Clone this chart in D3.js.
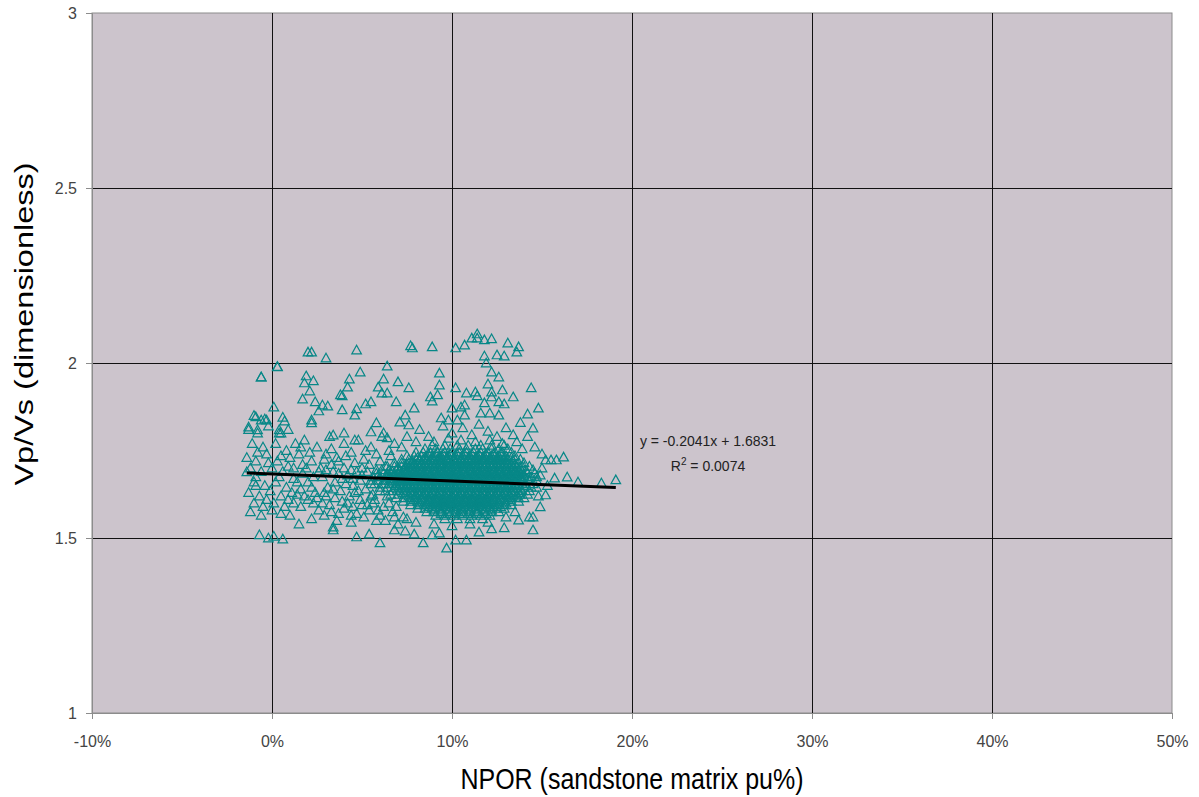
<!DOCTYPE html>
<html>
<head>
<meta charset="utf-8">
<script src="https://cdn.jsdelivr.net/npm/d3@7"></script>
<style>
  body { margin: 0; background: #fff; }
  text { font-family: Arial, "Liberation Sans", sans-serif; }
</style>
</head>
<body>
<div id="chart"></div>
<script>
// axis ticks
const xTicks = [-10, 0, 10, 20, 30, 40, 50];   // NPOR, percent
const yTicks = [1, 1.5, 2, 2.5, 3];            // Vp/Vs

// linear trendline from the spreadsheet (x as a fraction)
const trendSlope = -0.2041;
const trendIntercept = 1.6831;
const trendR2 = 0.0074;

// scattered points above the cloud  [NPOR %, Vp/Vs]
const upperPoints = [
  [2.0,2.031],[2.2,2.031],[3.0,2.014],[4.7,2.037],[0.3,1.989],[-0.6,1.960],[1.9,1.963],[1.8,1.943],
  [2.3,1.949],[2.1,1.920],[1.7,1.897],[2.4,1.889],[2.8,1.880],[3.1,1.877],[2.6,1.863],[3.8,1.909],
  [3.9,1.906],[4.3,1.954],[4.2,1.931],[4.9,1.974],[3.9,1.866],[4.7,1.869],[4.6,1.851],[5.2,1.883],
  [5.5,1.889],[6.4,1.991],[6.2,1.954],[5.9,1.931],[6.1,1.914],[6.4,1.914],[0.1,1.874],[-0.9,1.846],
  [-0.6,1.837],[-0.3,1.837],[0.7,1.834],[2.2,1.837],[2.2,1.829],[5.8,1.829],[-1.3,1.817],[-0.8,1.809],
  [0.4,1.809],[0.5,1.800],[3.4,1.794],[4.0,1.800],[4.6,1.780],[5.5,1.803],[6.2,1.800],[6.4,1.786],
  [7.7,2.049],[7.8,2.043],[8.9,2.046],[10.2,2.043],[10.7,2.051],[11.1,2.071],[11.4,2.083],[11.4,2.071],
  [11.8,2.066],[12.2,2.069],[13.1,2.057],[13.7,2.046],[13.6,2.031],[12.5,2.023],[12.9,2.020],[11.8,2.020],
  [11.9,2.000],[9.3,1.971],[7.0,1.946],[7.6,1.929],[9.3,1.937],[12.2,1.974],[12.6,1.960],[12.0,1.940],
  [10.2,1.929],[10.8,1.914],[11.3,1.917],[11.4,1.906],[12.2,1.917],[12.2,1.903],[12.8,1.923],[13.4,1.903],
  [14.4,1.929],[6.9,1.889],[8.8,1.903],[8.9,1.891],[9.2,1.909],[7.9,1.871],[10.5,1.874],[10.7,1.880],
  [10.0,1.871],[11.8,1.886],[12.6,1.889],[12.9,1.883],[14.8,1.871],[14.2,1.854],[7.4,1.851],[7.1,1.831],
  [7.6,1.823],[9.4,1.843],[9.8,1.837],[10.3,1.837],[10.7,1.851],[11.6,1.857],[12.1,1.857],[12.6,1.851],
  [8.2,1.810],[8.7,1.790],[9.5,1.820],[10.0,1.800],[10.6,1.815],[11.1,1.795],[11.5,1.825],[12.0,1.805],
  [12.5,1.790],[13.0,1.815],[13.4,1.795],[13.8,1.830],[9.0,1.775],[9.8,1.785],[10.5,1.780],[11.3,1.775],
  [12.1,1.780],[12.8,1.770],[13.6,1.775],[14.2,1.790],[7.5,1.790],[8.0,1.775],[14.6,1.760],[13.9,1.755],
  [-1.0,1.850],[-0.4,1.840],[0.6,1.845]
];

// right tail and lower edge
const edgePoints = [
  [14.5,1.814],[15.2,1.723],[15.5,1.723],[15.8,1.723],[16.2,1.731],[15.7,1.671],[16.4,1.674],[17.0,1.660],
  [18.3,1.657],[19.1,1.666],[15.2,1.623],[14.9,1.589],[14.5,1.560],[14.5,1.523],[15.0,1.700],[15.3,1.650],
  [15.0,1.740],[14.9,1.680],[14.8,1.620],
  [6.8,1.523],[7.4,1.520],[7.9,1.511],[8.4,1.486],[8.9,1.509],[9.3,1.514],[9.7,1.471],[10.2,1.494],
  [10.8,1.494],[11.5,1.517],[12.2,1.526],[12.9,1.529],[13.7,1.551],[14.3,1.560],[3.4,1.531],[3.4,1.523],
  [4.7,1.503],[5.4,1.511],[6.0,1.486],[-0.7,1.509],[-0.2,1.500],[0.6,1.497],[1.5,1.540],[2.2,1.555],
  [8.0,1.545],[9.0,1.540],[10.0,1.535],[11.0,1.540],[12.0,1.545],[13.0,1.560],[7.5,1.555],[13.5,1.575]
];

// points around zero porosity
const leftPoints = [
  [-1.3,1.810],[-0.8,1.800],[-0.2,1.820],[0.4,1.800],[0.9,1.810],
  [-1.1,1.770],[-0.5,1.760],[0.2,1.770],[0.8,1.750],[1.3,1.770],
  [-1.4,1.730],[-0.9,1.720],[-0.3,1.740],[0.3,1.720],[1.0,1.730],
  [-1.2,1.700],[-0.6,1.690],[0.0,1.700],[0.6,1.690],[1.2,1.700],[-1.4,1.689],
  [-1.0,1.660],[-0.4,1.650],[0.2,1.660],[0.8,1.645],[1.4,1.660],
  [-1.3,1.630],[-0.7,1.620],[-0.1,1.635],[0.5,1.620],[1.1,1.630],
  [-1.0,1.600],[-0.5,1.590],[0.1,1.600],[0.7,1.590],[1.2,1.600],
  [-1.2,1.575],[-0.6,1.565],[0.0,1.580],[0.5,1.570],[1.0,1.565],
  [0.1,1.505],[-0.6,1.960],[0.3,1.990],
  [-0.8,1.745],[0.5,1.735],[-0.2,1.715],[0.9,1.705],[-0.9,1.675],[0.4,1.675],[-0.3,1.610],[0.9,1.610],
  [-0.9,1.650],[1.6,1.590],[1.7,1.710],[1.6,1.760]
];

// between the zero cluster and the dense core
const midPoints = [
  [1.8,1.78],[2.5,1.76],[3.2,1.79],[4.0,1.77],[4.8,1.78],[5.5,1.76],[6.1,1.79],[6.8,1.77],
  [1.5,1.74],[2.2,1.72],[3.0,1.74],[3.7,1.72],[4.4,1.745],[5.1,1.725],[5.8,1.74],[6.5,1.75],[7.2,1.76],
  [1.9,1.70],[2.6,1.69],[3.3,1.71],[4.0,1.70],[4.7,1.69],[5.4,1.71],[6.0,1.72],
  [1.2,1.67],[2.0,1.66],[2.8,1.675],[3.5,1.66],[4.2,1.68],[4.9,1.665],[5.3,1.69],
  [1.6,1.64],[2.4,1.63],[3.1,1.645],[3.8,1.635],[4.5,1.65],[5.2,1.64],[5.6,1.625],
  [2.0,1.61],[2.8,1.60],[3.5,1.615],[4.2,1.60],[4.9,1.61],[5.6,1.60],[6.2,1.59],
  [2.6,1.58],[3.3,1.575],[4.0,1.585],[4.7,1.57],[5.4,1.58],[6.0,1.565],[6.7,1.575],[7.3,1.56],
  [3.6,1.55],[4.4,1.545],[5.8,1.55],[7.0,1.54],
  [3.4,1.69],[3.9,1.67],[4.4,1.695],[4.6,1.63],[5.0,1.595],[5.5,1.655],[5.9,1.68],[6.2,1.655],
  [6.4,1.62],[3.0,1.62],[2.3,1.60],[1.8,1.62],[2.7,1.70],[3.6,1.73],[4.3,1.62],[5.0,1.70],[5.7,1.61],
  [2.1,1.745],[2.9,1.725],[3.3,1.755],[4.1,1.735],[4.6,1.715],[5.2,1.75],[6.3,1.705],[6.6,1.735],
  [1.7,1.685],[2.3,1.675],[3.0,1.695],[3.7,1.685],[4.5,1.67],[5.0,1.68],[5.8,1.695],[6.4,1.685],
  [1.4,1.625],[2.2,1.645],[2.9,1.63],[3.4,1.64],[4.1,1.655],[4.8,1.635],[5.5,1.62],[6.0,1.635],
  [2.5,1.615],[3.2,1.595],[3.9,1.605],[4.5,1.59],[5.3,1.595],[5.9,1.58],[6.5,1.60],[6.9,1.59],
  [2.9,1.565],[3.7,1.57],[4.4,1.565],[5.1,1.56],[6.3,1.55],[6.8,1.56]
];

// dense core, read row by row: [Vp/Vs, NPOR values %]
const coreRows = [
  [1.765, [8.9,9.6,10.3,10.9,11.6,12.2,12.9]],
  [1.755, [8.5,9.1,9.5,9.9,10.4,10.8,11.3,11.7,12.2,12.6,13.1]],
  [1.745, [8.0,8.4,8.8,9.2,9.6,10.0,10.4,10.8,11.2,11.6,12.0,12.4,12.8,13.3]],
  [1.735, [7.5,7.9,8.3,8.6,9.0,9.4,9.8,10.2,10.6,11.0,11.4,11.8,12.2,12.6,13.0,13.5]],
  [1.725, [7.2,7.6,8.0,8.4,8.8,9.2,9.5,9.9,10.3,10.7,11.1,11.5,11.9,12.3,12.7,13.1,13.5,13.8]],
  [1.715, [6.8,7.2,7.6,7.9,8.3,8.7,9.1,9.4,9.8,10.2,10.6,11.0,11.3,11.7,12.1,12.5,12.9,13.3,13.7,14.0]],
  [1.705, [6.4,6.8,7.2,7.6,8.0,8.4,8.8,9.2,9.6,10.0,10.4,10.8,11.2,11.6,12.0,12.4,12.8,13.2,13.6,13.9,14.3]],
  [1.695, [6.1,6.5,6.9,7.3,7.7,8.1,8.5,8.9,9.3,9.7,10.1,10.5,10.9,11.3,11.7,12.1,12.5,12.9,13.3,13.7,14.1,14.5]],
  [1.685, [5.8,6.2,6.6,7.0,7.4,7.8,8.2,8.6,9.0,9.4,9.8,10.2,10.6,11.0,11.4,11.8,12.2,12.6,13.0,13.4,13.8,14.2,14.6]],
  [1.675, [5.6,6.0,6.4,6.8,7.2,7.6,8.0,8.4,8.8,9.2,9.6,10.0,10.4,10.8,11.2,11.6,12.0,12.4,12.8,13.2,13.6,14.0,14.4,14.7]],
  [1.665, [5.5,5.9,6.3,6.7,7.1,7.5,7.9,8.3,8.7,9.1,9.5,9.9,10.3,10.7,11.1,11.5,11.9,12.3,12.7,13.1,13.5,13.9,14.3,14.7]],
  [1.655, [5.7,6.1,6.5,6.9,7.3,7.7,8.1,8.5,8.9,9.3,9.7,10.1,10.5,10.9,11.3,11.7,12.1,12.5,12.9,13.3,13.7,14.1,14.5]],
  [1.645, [6.0,6.4,6.8,7.2,7.6,8.0,8.4,8.8,9.2,9.6,10.0,10.4,10.8,11.2,11.6,12.0,12.4,12.8,13.2,13.6,14.0,14.4,14.7]],
  [1.635, [6.3,6.7,7.1,7.5,7.9,8.3,8.7,9.1,9.5,9.9,10.3,10.7,11.1,11.5,11.9,12.3,12.7,13.1,13.5,13.9,14.3]],
  [1.625, [6.6,7.0,7.4,7.8,8.2,8.6,9.0,9.4,9.8,10.2,10.6,11.0,11.4,11.8,12.2,12.6,13.0,13.4,13.8,14.2]],
  [1.615, [6.9,7.3,7.7,8.1,8.5,8.9,9.3,9.7,10.1,10.5,10.9,11.3,11.7,12.1,12.5,12.9,13.3,13.7,14.0]],
  [1.605, [7.3,7.7,8.1,8.5,8.9,9.3,9.7,10.1,10.5,10.9,11.3,11.7,12.1,12.5,12.9,13.3,13.7]],
  [1.595, [7.7,8.1,8.5,8.9,9.3,9.7,10.1,10.5,10.9,11.3,11.7,12.1,12.5,12.9,13.3]],
  [1.585, [8.1,8.5,8.9,9.3,9.7,10.1,10.5,10.9,11.3,11.7,12.1,12.5,12.9]],
  [1.575, [8.6,9.0,9.4,9.8,10.2,10.6,11.0,11.4,11.8,12.2,12.6]],
  [1.565, [9.1,9.6,10.1,10.6,11.1,11.6,12.1]],
  [1.555, [9.6,10.3,11.0,11.7]]
];

// the solid centre of the core, between the rows above
const centreRows = [
  [1.74, [8.7,9.1,9.5,9.9,10.3,10.7,11.1,11.5,11.9,12.3,12.7]],
  [1.73, [8.1,8.5,8.9,9.3,9.7,10.1,10.5,10.9,11.3,11.7,12.1,12.5,12.9,13.3]],
  [1.72, [7.8,8.2,8.6,9.0,9.4,9.8,10.2,10.6,11.0,11.4,11.8,12.2,12.6,13.0,13.4]],
  [1.71, [7.5,7.9,8.3,8.7,9.1,9.5,9.9,10.3,10.7,11.1,11.5,11.9,12.3,12.7,13.1,13.5]],
  [1.70, [7.0,7.4,7.8,8.2,8.6,9.0,9.4,9.8,10.2,10.6,11.0,11.4,11.8,12.2,12.6,13.0,13.4,13.8]],
  [1.69, [6.7,7.1,7.5,7.9,8.3,8.7,9.1,9.5,9.9,10.3,10.7,11.1,11.5,11.9,12.3,12.7,13.1,13.5,13.9]],
  [1.68, [6.4,6.8,7.2,7.6,8.0,8.4,8.8,9.2,9.6,10.0,10.4,10.8,11.2,11.6,12.0,12.4,12.8,13.2,13.6,14.0]],
  [1.67, [6.6,7.0,7.4,7.8,8.2,8.6,9.0,9.4,9.8,10.2,10.6,11.0,11.4,11.8,12.2,12.6,13.0,13.4,13.8,14.2]],
  [1.66, [6.7,7.1,7.5,7.9,8.3,8.7,9.1,9.5,9.9,10.3,10.7,11.1,11.5,11.9,12.3,12.7,13.1,13.5,13.9]],
  [1.65, [6.9,7.3,7.7,8.1,8.5,8.9,9.3,9.7,10.1,10.5,10.9,11.3,11.7,12.1,12.5,12.9,13.3,13.7,14.1]],
  [1.64, [7.0,7.4,7.8,8.2,8.6,9.0,9.4,9.8,10.2,10.6,11.0,11.4,11.8,12.2,12.6,13.0,13.4,13.8]],
  [1.63, [7.3,7.7,8.1,8.5,8.9,9.3,9.7,10.1,10.5,10.9,11.3,11.7,12.1,12.5,12.9,13.3,13.7]],
  [1.62, [7.6,8.0,8.4,8.8,9.2,9.6,10.0,10.4,10.8,11.2,11.6,12.0,12.4,12.8,13.2,13.6]],
  [1.61, [7.9,8.3,8.7,9.1,9.5,9.9,10.3,10.7,11.1,11.5,11.9,12.3,12.7,13.1]],
  [1.60, [8.2,8.6,9.0,9.4,9.8,10.2,10.6,11.0,11.4,11.8,12.2,12.6,13.0]],
  [1.59, [8.7,9.1,9.5,9.9,10.3,10.7,11.1,11.5,11.9,12.3,12.7]],
  [1.58, [9.0,9.4,9.8,10.2,10.6,11.0,11.4,11.8,12.2]],
  [1.57, [9.4,9.9,10.4,10.9,11.4,11.9]]
];

// heaviest part of the cloud, where the markers merge into a solid patch
const solidRows = [
  [1.725, [8.2,8.6,9.0,9.4,9.7,10.1,10.5,10.9,11.3,11.7,12.1,12.5,12.9]],
  [1.715, [7.8,8.1,8.5,8.9,9.3,9.6,10.0,10.4,10.8,11.2,11.5,11.9,12.3,12.7,13.1]],
  [1.705, [7.4,7.8,8.2,8.6,9.0,9.4,9.8,10.2,10.6,11.0,11.4,11.8,12.2,12.6,13.0,13.4]],
  [1.695, [7.1,7.5,7.9,8.3,8.7,9.1,9.5,9.9,10.3,10.7,11.1,11.5,11.9,12.3,12.7,13.1,13.5]],
  [1.685, [6.8,7.2,7.6,8.0,8.4,8.8,9.2,9.6,10.0,10.4,10.8,11.2,11.6,12.0,12.4,12.8,13.2,13.6]],
  [1.675, [6.6,7.0,7.4,7.8,8.2,8.6,9.0,9.4,9.8,10.2,10.6,11.0,11.4,11.8,12.2,12.6,13.0,13.4,13.8]],
  [1.665, [6.9,7.3,7.7,8.1,8.5,8.9,9.3,9.7,10.1,10.5,10.9,11.3,11.7,12.1,12.5,12.9,13.3,13.7]],
  [1.655, [7.1,7.5,7.9,8.3,8.7,9.1,9.5,9.9,10.3,10.7,11.1,11.5,11.9,12.3,12.7,13.1,13.5]],
  [1.645, [7.4,7.8,8.2,8.6,9.0,9.4,9.8,10.2,10.6,11.0,11.4,11.8,12.2,12.6,13.0,13.4]],
  [1.635, [7.7,8.1,8.5,8.9,9.3,9.7,10.1,10.5,10.9,11.3,11.7,12.1,12.5,12.9,13.3]],
  [1.625, [8.0,8.4,8.8,9.2,9.6,10.0,10.4,10.8,11.2,11.6,12.0,12.4,12.8,13.2]],
  [1.615, [8.3,8.7,9.1,9.5,9.9,10.3,10.7,11.1,11.5,11.9,12.3,12.7]],
  [1.605, [8.7,9.1,9.5,9.9,10.3,10.7,11.1,11.5,11.9,12.3]],
  [1.595, [9.1,9.5,9.9,10.3,10.7,11.1,11.5,11.9]]
];

const rowsToPoints = rows => rows.flatMap(([v, xs]) => xs.map(x => [x, v]));
const allPoints = [
    ...leftPoints, ...midPoints, ...upperPoints, ...edgePoints,
    ...rowsToPoints(coreRows), ...rowsToPoints(centreRows), ...rowsToPoints(solidRows)
];

const width = 1199, height = 797;
const plot = {left: 92, right: 1172, top: 13, bottom: 713};

const svg = d3.select("#chart")
    .append("svg")
    .attr("width", width)
    .attr("height", height);

const xScale = d3.scaleLinear().domain([-10, 50]).range([plot.left, plot.right]);
const yScale = d3.scaleLinear().domain([1, 3]).range([plot.bottom, plot.top]);

// plot area background
svg.append("rect")
    .attr("x", plot.left)
    .attr("y", plot.top)
    .attr("width", plot.right - plot.left)
    .attr("height", plot.bottom - plot.top)
    .attr("fill", "#ccc4cc")
    .attr("stroke", "#8c8c8c")
    .attr("stroke-width", 1);

// gridlines
svg.append("g")
    .selectAll("line")
    .data(xTicks.slice(1, -1))
    .join("line")
    .attr("x1", d => Math.round(xScale(d)) + 0.5)
    .attr("x2", d => Math.round(xScale(d)) + 0.5)
    .attr("y1", plot.top)
    .attr("y2", plot.bottom)
    .attr("stroke", "#111")
    .attr("stroke-width", 1);

svg.append("g")
    .selectAll("line")
    .data(yTicks.slice(1, -1))
    .join("line")
    .attr("x1", plot.left)
    .attr("x2", plot.right)
    .attr("y1", d => Math.round(yScale(d)) + 0.5)
    .attr("y2", d => Math.round(yScale(d)) + 0.5)
    .attr("stroke", "#111")
    .attr("stroke-width", 1);

// axes
const xAxis = svg.append("g")
    .attr("transform", `translate(0,${plot.bottom})`)
    .call(d3.axisBottom(xScale).tickValues(xTicks).tickSize(6).tickPadding(17).tickFormat(d => d + "%"));
const yAxis = svg.append("g")
    .attr("transform", `translate(${plot.left},0)`)
    .call(d3.axisLeft(yScale).tickValues(yTicks).tickSize(6).tickPadding(9).tickFormat(d3.format("")));

[xAxis, yAxis].forEach(g => {
    g.select(".domain").attr("stroke", "#8c8c8c");
    g.selectAll(".tick line").attr("stroke", "#8c8c8c");
    g.selectAll(".tick text")
        .attr("fill", "#444")
        .style("font-size", "16px")
        .style("font-family", "Arial, 'Liberation Sans', sans-serif");
});

// scatter markers (hollow triangles)
const tri = "M0,-4.8L4.8,3.8L-4.8,3.8Z";
svg.append("g")
    .selectAll("path")
    .data(allPoints)
    .join("path")
    .attr("d", tri)
    .attr("transform", d => `translate(${xScale(d[0])},${yScale(d[1])})`)
    .attr("fill", "none")
    .attr("stroke", "#078787")
    .attr("stroke-width", 1.2);

// trendline over the data range
const xExtent = d3.extent(allPoints, d => d[0]);
const line = d3.line()
    .x(d => xScale(d))
    .y(d => yScale(trendSlope * d / 100 + trendIntercept));
svg.append("path")
    .datum(xExtent)
    .attr("d", line)
    .attr("fill", "none")
    .attr("stroke", "#000")
    .attr("stroke-width", 3);

// equation label
svg.append("text")
    .attr("x", 708)
    .attr("y", 446)
    .attr("text-anchor", "middle")
    .attr("fill", "#222")
    .style("font-size", "14px")
    .text(`y = ${trendSlope}x +  ${trendIntercept}`);
const r2 = svg.append("text")
    .attr("x", 708)
    .attr("y", 471)
    .attr("text-anchor", "middle")
    .attr("fill", "#222")
    .style("font-size", "14px");
r2.append("tspan").text("R");
r2.append("tspan").attr("dy", -6).style("font-size", "10px").text("2");
r2.append("tspan").attr("dy", 6).text(` = ${trendR2}`);

// axis titles
svg.append("text")
    .attr("transform", "translate(632,789) scale(1,1.2)")
    .attr("text-anchor", "middle")
    .attr("fill", "#000")
    .style("font-size", "25px")
    .text("NPOR (sandstone matrix pu%)");

svg.append("text")
    .attr("transform", "translate(33,324) rotate(-90) scale(1.3,1)")
    .attr("text-anchor", "middle")
    .attr("fill", "#000")
    .style("font-size", "25px")
    .text("Vp/Vs (dimensionless)");
</script>
</body>
</html>
